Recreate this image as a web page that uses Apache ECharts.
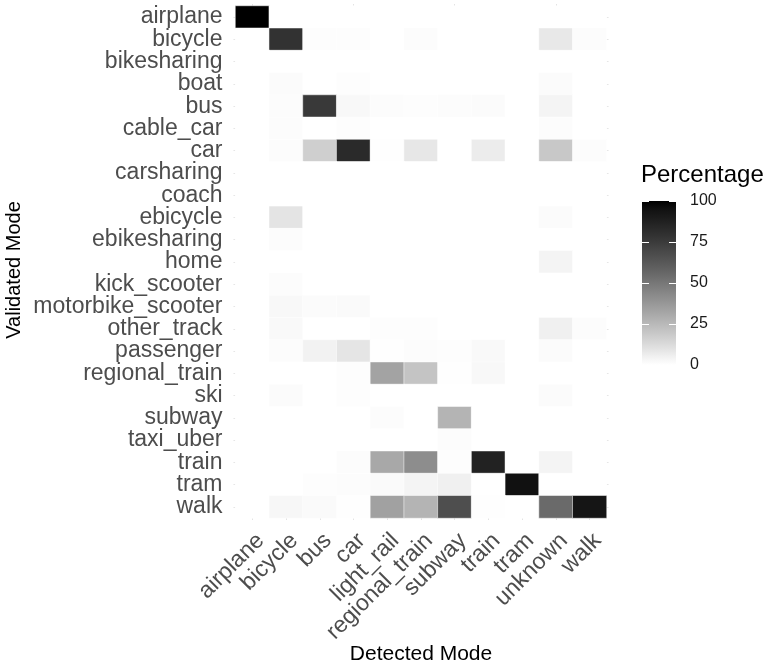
<!DOCTYPE html>
<html>
<head>
<meta charset="utf-8">
<script src="https://cdn.jsdelivr.net/npm/echarts@6/dist/echarts.min.js"></script>
<style>
  html, body { margin: 0; padding: 0; background: #fff; }
  #chart { width: 769px; height: 667px; }
</style>
</head>
<body>
<div id="chart"></div>
<script>
// Detected (columns) vs validated (rows) travel modes, share in percent
const detectedModes = ['airplane', 'bicycle', 'bus', 'car', 'light_rail', 'regional_train',
  'subway', 'train', 'tram', 'unknown', 'walk'];
const validatedModes = ['airplane', 'bicycle', 'bikesharing', 'boat', 'bus', 'cable_car', 'car',
  'carsharing', 'coach', 'ebicycle', 'ebikesharing', 'home', 'kick_scooter', 'motorbike_scooter',
  'other_track', 'passenger', 'regional_train', 'ski', 'subway', 'taxi_uber', 'train', 'tram', 'walk'];

// one row per validated mode, values in detectedModes order
const airplaneRow         = [100, 0, 0, 0, 0, 0, 0, 0, 0, 0, 0];
const bicycleRow          = [0, 79, 0.8, 0.8, 0, 1, 0, 0, 0, 7.9, 1];
const bikesharingRow      = [0, 0, 0, 0, 0, 0, 0, 0, 0, 0, 0];
const boatRow             = [0, 1.5, 0, 0.6, 0, 0, 0, 0, 0, 1.6, 0];
const busRow              = [0, 1, 75.7, 2.5, 1, 0.7, 1, 1.3, 0, 4.1, 0];
const cableCarRow         = [0, 1, 0, 0.6, 0, 0, 0, 0, 0, 1, 0];
const carRow              = [0, 1, 16.8, 82.9, 0.3, 8.3, 0, 6.6, 0, 19.3, 1];
const carsharingRow       = [0, 0, 0, 0, 0, 0, 0, 0, 0, 0, 0];
const coachRow            = [0, 0, 0, 0, 0, 0, 0, 0, 0, 0, 0];
const ebicycleRow         = [0, 9.3, 0, 0, 0, 0, 0, 0, 0, 1.4, 0];
const ebikesharingRow     = [0, 1, 0, 0, 0, 0, 0, 0, 0, 0, 0];
const homeRow             = [0, 0, 0, 0, 0, 0, 0, 0, 0, 4.1, 0];
const kickScooterRow      = [0, 1, 0, 0, 0, 0, 0, 0, 0, 0, 0];
const motorbikeScooterRow = [0, 2.5, 1.4, 1.7, 0, 0, 0, 0, 0, 0, 0];
const otherTrackRow       = [0, 2.2, 0, 0, 0.6, 0.6, 0, 0, 0, 5.2, 1];
const passengerRow        = [0, 1, 4.8, 9, 0.2, 1.1, 0.6, 2, 0, 1.4, 0];
const regionalTrainRow    = [0, 0, 0, 0.8, 33, 20.7, 0.3, 2.4, 0, 0, 0];
const skiRow              = [0, 1.4, 0, 0.6, 0, 0, 0, 0, 0, 1.4, 0];
const subwayRow           = [0, 0, 0, 0, 1, 0, 26.7, 0, 0, 0, 0];
const taxiUberRow         = [0, 0, 0, 0, 0, 0, 1, 0, 0, 0, 0];
const trainRow            = [0, 0, 0, 1, 31.2, 41.5, 0.6, 86.8, 0, 4.1, 0];
const tramRow             = [0, 0, 0.6, 0.9, 1.7, 3.8, 5.5, 0, 94.9, 0, 0];
const walkRow             = [0, 2.8, 1.7, 0.3, 33.8, 26.7, 67, 0.3, 0, 55.2, 93.1];

const rows = [airplaneRow, bicycleRow, bikesharingRow, boatRow, busRow, cableCarRow, carRow,
  carsharingRow, coachRow, ebicycleRow, ebikesharingRow, homeRow, kickScooterRow,
  motorbikeScooterRow, otherTrackRow, passengerRow, regionalTrainRow, skiRow, subwayRow,
  taxiUberRow, trainRow, tramRow, walkRow];

// colour bar scale
const scaleMin = 0;
const scaleMax = 100;
const scaleStep = 25;

// white -> black ramp interpolated in CIE L* so mid greys follow perceptual lightness
function greyForLightness(L) {
  const Y = L > 8 ? Math.pow((L + 16) / 116, 3) : L / 903.3;
  const s = Y <= 0.0031308 ? 12.92 * Y : 1.055 * Math.pow(Y, 1 / 2.4) - 0.055;
  const g = Math.round(Math.max(0, Math.min(1, s)) * 255);
  const h = g.toString(16).padStart(2, '0');
  return '#' + h + h + h;
}
const rampColors = [];
for (let i = 0; i <= 20; i++) rampColors.push(greyForLightness(100 - i * 5));

const heatData = [];
rows.forEach((row, yi) => row.forEach((v, xi) => heatData.push([xi, yi, v])));

const font = "'Liberation Sans', Arial, Helvetica, sans-serif";
const dotTick = { show: true, alignWithLabel: true, length: 2, lineStyle: { color: '#e3e3e3', width: 1 } };

const chart = echarts.init(document.getElementById('chart'), null, { renderer: 'canvas' });
chart.setOption({
  animation: false,
  backgroundColor: '#ffffff',
  textStyle: { fontFamily: font },
  title: {
    text: 'Percentage',
    left: 636,
    top: 158,
    textStyle: { fontSize: 24, fontWeight: 'normal', color: '#000', fontFamily: font }
  },
  grid: [
    { left: 235.5, top: 6, width: 371, height: 512, outerBoundsMode: 'none', containLabel: false },
    { left: 642, top: 201, width: 34, height: 164, outerBoundsMode: 'none', containLabel: false }
  ],
  xAxis: [
    {
      type: 'category', gridIndex: 0, data: detectedModes,
      axisLine: { show: false }, axisTick: dotTick, splitLine: { show: false },
      axisLabel: {
        interval: 0, rotate: 45, fontSize: 23, color: '#4d4d4d', margin: 11,
        verticalAlign: 'top', fontFamily: font
      },
      name: 'Detected Mode', nameLocation: 'middle', nameGap: 126, nameMoveOverlap: false,
      nameTextStyle: { fontSize: 21, color: '#000', fontFamily: font }
    },
    {
      type: 'category', gridIndex: 0, data: detectedModes, position: 'top',
      axisLine: { show: false }, axisTick: dotTick, axisLabel: { show: false }, splitLine: { show: false }
    },
    {
      type: 'category', gridIndex: 1, data: [''], show: false
    }
  ],
  yAxis: [
    {
      type: 'category', gridIndex: 0, data: validatedModes, inverse: true,
      axisLine: { show: false }, axisTick: dotTick, splitLine: { show: false },
      axisLabel: { interval: 0, fontSize: 23, color: '#4d4d4d', margin: 13, fontFamily: font },
      name: 'Validated Mode', nameLocation: 'middle', nameGap: 211, nameMoveOverlap: false,
      nameTextStyle: { fontSize: 20, color: '#000', fontFamily: font, padding: [0, 16, 0, 0] }
    },
    {
      type: 'category', gridIndex: 0, data: validatedModes, inverse: true, position: 'right',
      axisLine: { show: false }, axisTick: dotTick, axisLabel: { show: false }, splitLine: { show: false }
    },
    {
      type: 'value', gridIndex: 1, min: scaleMin, max: scaleMax, interval: scaleStep, position: 'right',
      z: 10,
      axisLine: { show: false }, splitLine: { show: false },
      axisTick: { show: true, inside: true, length: 7, lineStyle: { color: '#ffffff', width: 1 } },
      axisLabel: { fontSize: 16, color: '#1a1a1a', margin: 14, fontFamily: font }
    },
    {
      type: 'value', gridIndex: 1, min: scaleMin, max: scaleMax, interval: scaleStep, position: 'left',
      z: 10,
      axisLine: { show: false }, splitLine: { show: false }, axisLabel: { show: false },
      axisTick: { show: true, inside: true, length: 7, lineStyle: { color: '#ffffff', width: 1 } }
    }
  ],
  visualMap: {
    show: false, type: 'continuous', min: scaleMin, max: scaleMax,
    seriesIndex: 0, dimension: 2, inRange: { color: rampColors }
  },
  series: [
    {
      type: 'heatmap', xAxisIndex: 0, yAxisIndex: 0, data: heatData,
      itemStyle: { borderColor: '#ffffff', borderWidth: 0.5 },
      emphasis: { disabled: true }, silent: true
    },
    {
      // colour bar: white at the bottom (0) through to black at the top (100)
      type: 'bar', xAxisIndex: 2, yAxisIndex: 2, data: [scaleMax], barWidth: '100%', silent: true,
      itemStyle: {
        color: new echarts.graphic.LinearGradient(0, 0, 0, 1,
          rampColors.map((c, i, arr) => ({ offset: 1 - i / (arr.length - 1), color: c })))
      }
    }
  ]
});
</script>
</body>
</html>
